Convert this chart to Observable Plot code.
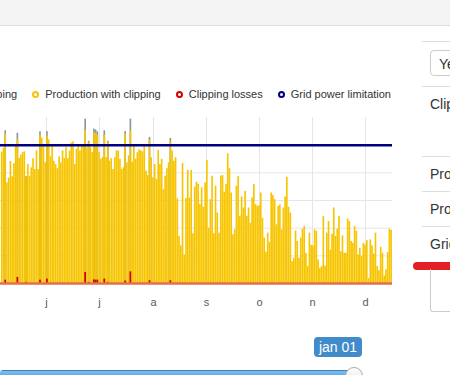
<!DOCTYPE html>
<html>
<head>
<meta charset="utf-8">
<script src="https://cdn.jsdelivr.net/npm/d3@7"></script>
<script src="https://cdn.jsdelivr.net/npm/@observablehq/plot@0.6"></script>
<style>
  html, body { margin: 0; padding: 0; }
  body { width: 450px; height: 375px; overflow: hidden; position: relative; background: #fff;
         font-family: "Liberation Sans", Arial, sans-serif; color: #333; }
  .abs { position: absolute; }
  .hline { position: absolute; left: 422px; width: 40px; height: 1px; background: #dddddd; }
  .ptxt { position: absolute; left: 430px; font-size: 14px; line-height: 16px; white-space: nowrap; color: #333; }
  #legend { position: absolute; top: 88px; right: 59px; width: max-content; display: flex; align-items: center;
            font-size: 11px; line-height: 13px; white-space: nowrap; color: #333; }
  #legend .item { display: flex; align-items: center; margin-left: 15px; }
  #legend .mk { width: 7px; height: 7px; box-sizing: border-box; border-radius: 50%; border: 2px solid; margin-right: 6px; }
</style>
</head>
<body>
<div class="abs" style="left:0;top:0;width:450px;height:25px;background:#f4f4f4;border-bottom:1px solid #dcdcdc"></div>
<div id="legend"></div>
<div id="chart" class="abs" style="left:0;top:109px"></div>

<!-- right side panel -->
<div class="hline" style="top:41px"></div>
<div class="abs" style="left:430px;top:50px;width:60px;height:26px;border:1px solid #cccccc;border-radius:4px;box-sizing:border-box"></div>
<div class="ptxt" style="left:439px;top:55.5px">Year</div>
<div class="hline" style="top:86px"></div>
<div class="ptxt" style="top:95.5px">Clipping</div>
<div class="hline" style="top:156px"></div>
<div class="ptxt" style="top:165.5px">Production</div>
<div class="hline" style="top:191px"></div>
<div class="ptxt" style="top:200.5px">Production</div>
<div class="hline" style="top:226px"></div>
<div class="ptxt" style="top:235.5px">Grid</div>
<div class="abs" style="left:413px;top:261.5px;width:60px;height:8px;border-radius:4px;background:#e32124"></div>
<div class="abs" style="left:430px;top:269px;width:40px;height:42px;border-left:1px solid #cccccc;border-bottom:1px solid #cccccc;border-bottom-left-radius:3px"></div>

<!-- slider -->
<div class="abs" style="left:314px;top:336.5px;width:48px;height:20px;border-radius:4px;background:#428bca;color:#fff;font-size:14px;line-height:20px;text-align:center">jan 01</div>
<div class="abs" style="left:0;top:369.5px;width:356px;height:8px;border-radius:3px;background:linear-gradient(to bottom,#3a7fbf 0,#3a7fbf 1px,#7dbbec 1px,#5ea6df 100%)"></div>
<div class="abs" style="left:345px;top:366.5px;width:18px;height:18px;border-radius:50%;box-sizing:border-box;border:1px solid #a8a8a8;background:linear-gradient(to bottom,#ffffff,#e2e2e2)"></div>

<script>
// ---------- data ----------
const firstDay = 140;            // day of year (0 = 1 Jan) of the first visible bar
const gridLimit = 5;             // grid power limitation level

// production with clipping, one value per day
const withClippingA = [4.75,4.89,5.40,3.64,3.81,4.41,3.86,4.33,4.97,5.21,4.52,4.64,4.73,4.76,3.82,4.30,3.88,4.18,4.51,4.12,
  4.79,4.12,5.36,5.25,5.03,4.36,5.33,5.19,4.58,4.97,4.42,4.30,4.15,4.58,4.36,4.79,4.52,4.91,4.51,4.79,
  5.07,5.12,4.30,4.85,4.97,4.79,4.97,5.03,5.54,4.91,5.10,4.91,4.73,5.45,5.43,5.36,4.73,4.49,4.55,5.36,
  4.55,5.10,4.42,4.51,4.12,4.55,4.79,4.79,4.49,4.12,4.18,5.40,4.36,4.61,5.52];
const withClippingB = [4.39,4.97,4.49,4.73,4.83,4.79,4.76,5.03,4.06,3.90,5.18,4.55,3.82,4.30,3.76,4.81,4.30,4.49,3.39,3.88,
  4.15,4.36,5.14,4.79,4.42,4.55,3.06,1.70,1.36,4.34,1.03,3.07,4.09,3.09,4.09,1.80,3.49,3.66,3.58,2.85,
  3.46,2.76,3.64,4.45,2.00,3.03,3.88,1.80,3.52,2.55,1.82,3.88,3.90,3.30,3.58,4.69,4.15,3.27,1.76,1.94,
  3.52,3.86,2.43,3.13,2.73,3.33,2.43,2.73,2.18,3.09,3.58,2.85,2.79,2.81];
const withClippingC = [3.27,2.36,1.64,1.13,1.82,1.48,3.27,3.18,3.03,2.12,2.79,2.84,1.94,2.73,3.13,3.84,2.76,2.55,0.79,0.91,
  1.90,1.52,0.91,1.64,1.96,2.06,1.09,0.61,1.82,1.38,1.36,1.94,1.88,0.85,0.55,0.61,2.42,0.63,1.82,2.24,
  1.21,1.78,2.73,1.70,1.96,2.42,1.15,1.72,1.09,1.09,2.33,2.24,1.52,1.45,2.06,1.88,1.03,1.27,0.97,1.45,
  1.39,1.55,0.18,1.58,1.36,1.07,1.82,0.61,0.46,1.31,1.09,0.27,0.49,1.12,1.96,1.92];

// clipping losses: bar index (from firstDay) and value
const lossIndex  = [2, 9, 14, 22, 26, 48, 50, 53, 54, 55, 59, 61, 71, 74, 85, 97];
const lossValues = [0.12, 0.22, 0.04, 0.12, 0.16, 0.40, 0.04, 0.13, 0.12, 0.12, 0.16, 0.04, 0.09, 0.42, 0.10, 0.10];

// x axis month labels
const monthLabels  = ["j","f","m","a","m","j","j","a","s","o","n","d"];
const monthLengths = [31,28,31,30,31,30,31,31,30,31,30,31];

// legend
const seriesNames  = ["Production without clipping","Production with clipping","Clipping losses","Grid power limitation"];
const seriesColors = ["#8796a3","#f7c500","#d40000","#00007f"];

// ---------- build table ----------
const withClipping = withClippingA.concat(withClippingB, withClippingC);
const lossMap = new Map(lossIndex.map((k, i) => [k, lossValues[i]]));
const data = withClipping.map((v, i) => ({
  day: firstDay + i, clipped: v, loss: lossMap.get(i) || 0
}));
const clippedDays = data.filter(d => d.loss > 0);
let start = 0;
const ticks = monthLabels.map((m, i) => {
  const t = {day: start + monthLengths[i] / 2, label: m};
  start += monthLengths[i];
  return t;
}).filter(t => t.day >= firstDay);

// ---------- legend ----------
const legend = document.getElementById("legend");
seriesNames.forEach((n, i) => {
  const it = document.createElement("div");
  it.className = "item";
  const mk = document.createElement("span");
  mk.className = "mk";
  mk.style.borderColor = seriesColors[i];
  const tx = document.createElement("span");
  tx.textContent = n;
  it.appendChild(mk); it.appendChild(tx);
  legend.appendChild(it);
});

// ---------- chart ----------
const xDomain = [firstDay - 0.5, 365];
const chart = Plot.plot({
  width: 392, height: 203,
  marginTop: 8, marginBottom: 29, marginLeft: 0, marginRight: 0,
  style: {fontFamily: "'Liberation Sans', Arial, sans-serif", background: "transparent", overflow: "visible"},
  x: {type: "linear", domain: xDomain, axis: null},
  y: {domain: [0, 6], axis: null},
  marks: [
    Plot.gridY([1, 2, 3, 4, 5], {stroke: "#e6e6e6", strokeOpacity: 1}),
    Plot.ruleX(ticks, {x: "day", y1: 0, y2: 6, stroke: "#e6e6e6", strokeOpacity: 1}),
    Plot.rectY(clippedDays, {x1: "day", x2: d => d.day + 1, y: d => d.clipped + d.loss, fill: seriesColors[0], insetLeft: 0.05, insetRight: 0.05}),
    Plot.rectY(data, {x1: "day", x2: d => d.day + 1, y: "clipped", fill: seriesColors[1], insetLeft: 0.05, insetRight: 0.05}),
    Plot.rectY(clippedDays, {x1: "day", x2: d => d.day + 1, y: "loss", fill: seriesColors[2]}),
    Plot.ruleY([0], {stroke: "#e2704c", strokeWidth: 2.5}),
    Plot.ruleY([gridLimit], {stroke: seriesColors[3], strokeWidth: 2.5}),
    Plot.text(ticks, {x: "day", y: 0, dy: 18.5, text: "label", fontSize: 11, fill: "#5a5a5a", lineAnchor: "middle"})
  ]
});
document.getElementById("chart").appendChild(chart);
</script>
</body>
</html>
